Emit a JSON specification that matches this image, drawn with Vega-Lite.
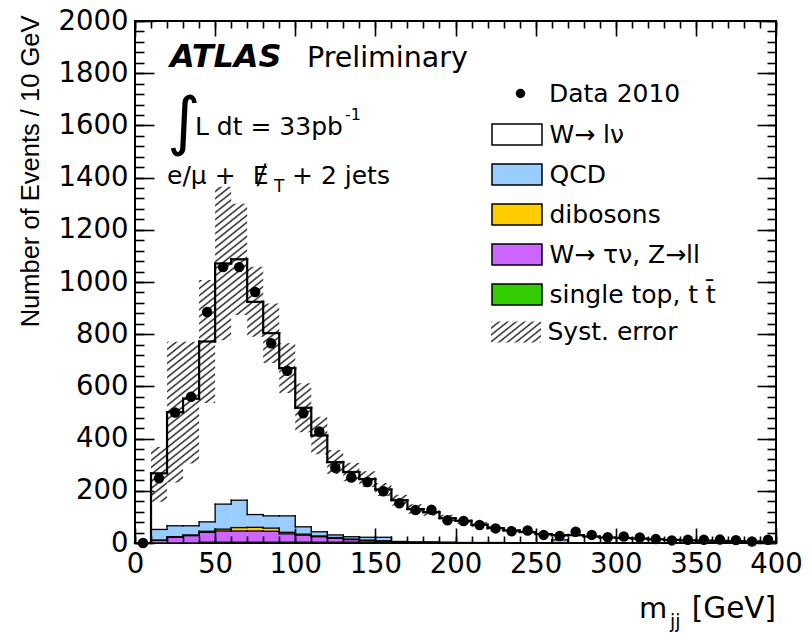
{
"$schema": "https://vega.github.io/schema/vega-lite/v6.json",
"width": 641, "height": 522,
"autosize": {"type": "none"},
"padding": {"left": 135, "top": 21, "right": 34, "bottom": 90},
"background": "white",
"config": {"view": {"stroke": "black", "strokeWidth": 2}, "axis": {"tickColor": "black", "tickWidth": 1.6, "labelColor": "black", "grid": false, "domain": false, "titleColor": "black"}},
"data": {"values": [
{"lo":0,"hi":10,"data":0,"wlnu":0,"qcd":0,"dib":0,"wtau":0,"top":0,"slo":0,"shi":0},
{"lo":10,"hi":20,"data":248,"wlnu":215,"qcd":41,"dib":1,"wtau":10,"top":0,"slo":158,"shi":368},
{"lo":20,"hi":30,"data":500,"wlnu":435,"qcd":42,"dib":2,"wtau":22,"top":0,"slo":232,"shi":771},
{"lo":30,"hi":40,"data":560,"wlnu":487,"qcd":35,"dib":3,"wtau":28,"top":0,"slo":305,"shi":771},
{"lo":40,"hi":50,"data":885,"wlnu":691,"qcd":36,"dib":4,"wtau":38,"top":3,"slo":536,"shi":1008},
{"lo":50,"hi":60,"data":1057,"wlnu":922,"qcd":96,"dib":7,"wtau":43,"top":3,"slo":777,"shi":1365},
{"lo":60,"hi":70,"data":1057,"wlnu":923,"qcd":105,"dib":13,"wtau":43,"top":3,"slo":874,"shi":1300},
{"lo":70,"hi":80,"data":962,"wlnu":815,"qcd":49,"dib":14,"wtau":43,"top":3,"slo":790,"shi":1058},
{"lo":80,"hi":90,"data":765,"wlnu":700,"qcd":47,"dib":12,"wtau":42,"top":3,"slo":690,"shi":918},
{"lo":90,"hi":100,"data":660,"wlnu":566,"qcd":63,"dib":6,"wtau":32,"top":3,"slo":575,"shi":765},
{"lo":100,"hi":110,"data":497,"wlnu":456,"qcd":28,"dib":4,"wtau":27,"top":3,"slo":424,"shi":612},
{"lo":110,"hi":120,"data":427,"wlnu":369,"qcd":16,"dib":3,"wtau":21,"top":3,"slo":340,"shi":484},
{"lo":120,"hi":130,"data":288,"wlnu":279,"qcd":10,"dib":3,"wtau":15,"top":3,"slo":264,"shi":356},
{"lo":130,"hi":140,"data":251,"wlnu":248,"qcd":9,"dib":2,"wtau":10,"top":3,"slo":237,"shi":307},
{"lo":140,"hi":150,"data":234,"wlnu":223,"qcd":11,"dib":2,"wtau":6,"top":3,"slo":215,"shi":275},
{"lo":150,"hi":160,"data":198,"wlnu":183,"qcd":14,"dib":1,"wtau":4,"top":3,"slo":180,"shi":230},
{"lo":160,"hi":170,"data":152,"wlnu":158,"qcd":2,"dib":1,"wtau":3,"top":0,"slo":143,"shi":185},
{"lo":170,"hi":180,"data":126,"wlnu":126,"qcd":1,"dib":1,"wtau":2,"top":0,"slo":112,"shi":148},
{"lo":180,"hi":190,"data":127,"wlnu":114,"qcd":1,"dib":1,"wtau":2,"top":0,"slo":104,"shi":132},
{"lo":190,"hi":200,"data":87,"wlnu":92,"qcd":1,"dib":1,"wtau":1,"top":0,"slo":82,"shi":108},
{"lo":200,"hi":210,"data":84,"wlnu":83,"qcd":1,"dib":0,"wtau":1,"top":0,"slo":74,"shi":96},
{"lo":210,"hi":220,"data":69,"wlnu":68,"qcd":1,"dib":0,"wtau":1,"top":0,"slo":60,"shi":80},
{"lo":220,"hi":230,"data":56,"wlnu":55,"qcd":1,"dib":0,"wtau":1,"top":0,"slo":49,"shi":65},
{"lo":230,"hi":240,"data":45,"wlnu":47,"qcd":0,"dib":0,"wtau":1,"top":0,"slo":41,"shi":55},
{"lo":240,"hi":250,"data":48,"wlnu":41,"qcd":0,"dib":0,"wtau":1,"top":0,"slo":36,"shi":48},
{"lo":250,"hi":260,"data":31,"wlnu":33,"qcd":0,"dib":0,"wtau":1,"top":0,"slo":29,"shi":39},
{"lo":260,"hi":270,"data":27,"wlnu":18,"qcd":12,"dib":0,"wtau":0,"top":0,"slo":25,"shi":35},
{"lo":270,"hi":280,"data":43,"wlnu":30,"qcd":0,"dib":0,"wtau":0,"top":0,"slo":25,"shi":35},
{"lo":280,"hi":290,"data":31,"wlnu":25,"qcd":0,"dib":0,"wtau":0,"top":0,"slo":21,"shi":29},
{"lo":290,"hi":300,"data":22,"wlnu":21,"qcd":0,"dib":0,"wtau":0,"top":0,"slo":18,"shi":24},
{"lo":300,"hi":310,"data":25,"wlnu":19,"qcd":0,"dib":0,"wtau":0,"top":0,"slo":16,"shi":22},
{"lo":310,"hi":320,"data":21,"wlnu":17,"qcd":0,"dib":0,"wtau":0,"top":0,"slo":14,"shi":20},
{"lo":320,"hi":330,"data":15,"wlnu":14,"qcd":0,"dib":0,"wtau":0,"top":0,"slo":12,"shi":16},
{"lo":330,"hi":340,"data":10,"wlnu":12,"qcd":0,"dib":0,"wtau":0,"top":0,"slo":10,"shi":14},
{"lo":340,"hi":350,"data":12,"wlnu":10,"qcd":0,"dib":0,"wtau":0,"top":0,"slo":8,"shi":12},
{"lo":350,"hi":360,"data":12,"wlnu":9,"qcd":0,"dib":0,"wtau":0,"top":0,"slo":7,"shi":11},
{"lo":360,"hi":370,"data":13,"wlnu":8,"qcd":0,"dib":0,"wtau":0,"top":0,"slo":6,"shi":10},
{"lo":370,"hi":380,"data":11,"wlnu":7,"qcd":0,"dib":0,"wtau":0,"top":0,"slo":5,"shi":9},
{"lo":380,"hi":390,"data":6,"wlnu":6,"qcd":0,"dib":0,"wtau":0,"top":0,"slo":5,"shi":7},
{"lo":390,"hi":400,"data":12,"wlnu":5,"qcd":0,"dib":0,"wtau":0,"top":0,"slo":4,"shi":6}
]},
"resolve": {"axis": {"x": "independent", "y": "independent"}},
"layer": [
{
"transform": [
{"fold": ["top", "wtau", "dib", "qcd", "wlnu"], "as": ["key", "v"]},
{"calculate": "indexof(['top','wtau','dib','qcd','wlnu'], datum.key)", "as": "ord"},
{"calculate": "['single top, t t\u0304','W\u2192 \u03c4\u03bd, Z\u2192ll','dibosons','QCD','W\u2192 l\u03bd'][datum.ord]", "as": "comp"},
{"stack": "v", "groupby": ["lo"], "sort": [{"field": "ord", "order": "ascending"}], "as": ["s0", "s1"]}
],
"mark": {"type": "rect", "opacity": 1, "strokeWidth": 0},
"encoding": {
"x": {"field": "lo", "type": "quantitative", "scale": {"domain": [0, 400], "nice": false, "zero": false},
 "axis": {"orient": "bottom", "values": [0,50,100,150,200,250,300,350,400], "format": "d", "ticks": false, "labelFont": "DejaVu Sans", "labelFontSize": 27.5, "labelPadding": 7, "labelFlush": false, "labelOverlap": false, "title": null}},
"x2": {"field": "hi"},
"y": {"field": "s0", "type": "quantitative", "scale": {"domain": [0, 2000], "nice": false},
 "axis": {"orient": "left", "values": [0,200,400,600,800,1000,1200,1400,1600,1800,2000], "format": "d", "ticks": false, "labelFont": "DejaVu Sans", "labelFontSize": 27.5, "labelPadding": 7, "labelOverlap": false,
  "title": "Number of Events / 10 GeV", "titleFont": "Liberation Sans", "titleFontSize": 25.5, "titleFontWeight": "normal", "titleAngle": -90, "titleAlign": "right", "titleBaseline": "middle", "titleX": -105, "titleY": -6}},
"y2": {"field": "s1"},
"color": {"field": "comp", "type": "nominal",
 "scale": {"domain": ["W\u2192 l\u03bd", "QCD", "dibosons", "W\u2192 \u03c4\u03bd, Z\u2192ll", "single top, t t\u0304"], "range": ["white", "#99ccff", "#ffcc00", "#cc66ff", "#33cc00"]},
 "legend": {"orient": "none", "legendX": 362, "legendY": 93.5, "title": null, "padding": 0, "rowPadding": 6,
  "symbolSize": 1444, "symbolType": "M-1.316,-0.553H1.316V0.553H-1.316Z", "symbolStrokeWidth": 1.5, "symbolStrokeColor": "black",
  "labelFont": "DejaVu Sans", "labelFontSize": 25, "labelColor": "black", "labelOffset": 12.5, "labelLimit": 400}
}
}
},
{
"transform": [{"filter": "datum.lo >= 10"}],
"mark": {"type": "area", "interpolate": "step-after", "opacity": 1, "fill": {"gradient": "linear", "x1": 0, "y1": 0, "x2": 1.1289, "y2": 0.8233, "stops": [
{"offset":0,"color":"#222"},{"offset":0.00208,"color":"transparent"},{"offset":0.00625,"color":"transparent"},{"offset":0.00833,"color":"#222"},{"offset":0.01042,"color":"transparent"},{"offset":0.01458,"color":"transparent"},{"offset":0.01667,"color":"#222"},{"offset":0.01875,"color":"transparent"},{"offset":0.02292,"color":"transparent"},
{"offset":0.025,"color":"#222"},{"offset":0.02708,"color":"transparent"},{"offset":0.03125,"color":"transparent"},{"offset":0.03333,"color":"#222"},{"offset":0.03542,"color":"transparent"},{"offset":0.03958,"color":"transparent"},{"offset":0.04167,"color":"#222"},{"offset":0.04375,"color":"transparent"},{"offset":0.04792,"color":"transparent"},
{"offset":0.05,"color":"#222"},{"offset":0.05208,"color":"transparent"},{"offset":0.05625,"color":"transparent"},{"offset":0.05833,"color":"#222"},{"offset":0.06042,"color":"transparent"},{"offset":0.06458,"color":"transparent"},{"offset":0.06667,"color":"#222"},{"offset":0.06875,"color":"transparent"},{"offset":0.07292,"color":"transparent"},
{"offset":0.075,"color":"#222"},{"offset":0.07708,"color":"transparent"},{"offset":0.08125,"color":"transparent"},{"offset":0.08333,"color":"#222"},{"offset":0.08542,"color":"transparent"},{"offset":0.08958,"color":"transparent"},{"offset":0.09167,"color":"#222"},{"offset":0.09375,"color":"transparent"},{"offset":0.09792,"color":"transparent"},
{"offset":0.1,"color":"#222"},{"offset":0.10208,"color":"transparent"},{"offset":0.10625,"color":"transparent"},{"offset":0.10833,"color":"#222"},{"offset":0.11042,"color":"transparent"},{"offset":0.11458,"color":"transparent"},{"offset":0.11667,"color":"#222"},{"offset":0.11875,"color":"transparent"},{"offset":0.12292,"color":"transparent"},
{"offset":0.125,"color":"#222"},{"offset":0.12708,"color":"transparent"},{"offset":0.13125,"color":"transparent"},{"offset":0.13333,"color":"#222"},{"offset":0.13542,"color":"transparent"},{"offset":0.13958,"color":"transparent"},{"offset":0.14167,"color":"#222"},{"offset":0.14375,"color":"transparent"},{"offset":0.14792,"color":"transparent"},
{"offset":0.15,"color":"#222"},{"offset":0.15208,"color":"transparent"},{"offset":0.15625,"color":"transparent"},{"offset":0.15833,"color":"#222"},{"offset":0.16042,"color":"transparent"},{"offset":0.16458,"color":"transparent"},{"offset":0.16667,"color":"#222"},{"offset":0.16875,"color":"transparent"},{"offset":0.17292,"color":"transparent"},
{"offset":0.175,"color":"#222"},{"offset":0.17708,"color":"transparent"},{"offset":0.18125,"color":"transparent"},{"offset":0.18333,"color":"#222"},{"offset":0.18542,"color":"transparent"},{"offset":0.18958,"color":"transparent"},{"offset":0.19167,"color":"#222"},{"offset":0.19375,"color":"transparent"},{"offset":0.19792,"color":"transparent"},
{"offset":0.2,"color":"#222"},{"offset":0.20208,"color":"transparent"},{"offset":0.20625,"color":"transparent"},{"offset":0.20833,"color":"#222"},{"offset":0.21042,"color":"transparent"},{"offset":0.21458,"color":"transparent"},{"offset":0.21667,"color":"#222"},{"offset":0.21875,"color":"transparent"},{"offset":0.22292,"color":"transparent"},
{"offset":0.225,"color":"#222"},{"offset":0.22708,"color":"transparent"},{"offset":0.23125,"color":"transparent"},{"offset":0.23333,"color":"#222"},{"offset":0.23542,"color":"transparent"},{"offset":0.23958,"color":"transparent"},{"offset":0.24167,"color":"#222"},{"offset":0.24375,"color":"transparent"},{"offset":0.24792,"color":"transparent"},
{"offset":0.25,"color":"#222"},{"offset":0.25208,"color":"transparent"},{"offset":0.25625,"color":"transparent"},{"offset":0.25833,"color":"#222"},{"offset":0.26042,"color":"transparent"},{"offset":0.26458,"color":"transparent"},{"offset":0.26667,"color":"#222"},{"offset":0.26875,"color":"transparent"},{"offset":0.27292,"color":"transparent"},
{"offset":0.275,"color":"#222"},{"offset":0.27708,"color":"transparent"},{"offset":0.28125,"color":"transparent"},{"offset":0.28333,"color":"#222"},{"offset":0.28542,"color":"transparent"},{"offset":0.28958,"color":"transparent"},{"offset":0.29167,"color":"#222"},{"offset":0.29375,"color":"transparent"},{"offset":0.29792,"color":"transparent"},
{"offset":0.3,"color":"#222"},{"offset":0.30208,"color":"transparent"},{"offset":0.30625,"color":"transparent"},{"offset":0.30833,"color":"#222"},{"offset":0.31042,"color":"transparent"},{"offset":0.31458,"color":"transparent"},{"offset":0.31667,"color":"#222"},{"offset":0.31875,"color":"transparent"},{"offset":0.32292,"color":"transparent"},
{"offset":0.325,"color":"#222"},{"offset":0.32708,"color":"transparent"},{"offset":0.33125,"color":"transparent"},{"offset":0.33333,"color":"#222"},{"offset":0.33542,"color":"transparent"},{"offset":0.33958,"color":"transparent"},{"offset":0.34167,"color":"#222"},{"offset":0.34375,"color":"transparent"},{"offset":0.34792,"color":"transparent"},
{"offset":0.35,"color":"#222"},{"offset":0.35208,"color":"transparent"},{"offset":0.35625,"color":"transparent"},{"offset":0.35833,"color":"#222"},{"offset":0.36042,"color":"transparent"},{"offset":0.36458,"color":"transparent"},{"offset":0.36667,"color":"#222"},{"offset":0.36875,"color":"transparent"},{"offset":0.37292,"color":"transparent"},
{"offset":0.375,"color":"#222"},{"offset":0.37708,"color":"transparent"},{"offset":0.38125,"color":"transparent"},{"offset":0.38333,"color":"#222"},{"offset":0.38542,"color":"transparent"},{"offset":0.38958,"color":"transparent"},{"offset":0.39167,"color":"#222"},{"offset":0.39375,"color":"transparent"},{"offset":0.39792,"color":"transparent"},
{"offset":0.4,"color":"#222"},{"offset":0.40208,"color":"transparent"},{"offset":0.40625,"color":"transparent"},{"offset":0.40833,"color":"#222"},{"offset":0.41042,"color":"transparent"},{"offset":0.41458,"color":"transparent"},{"offset":0.41667,"color":"#222"},{"offset":0.41875,"color":"transparent"},{"offset":0.42292,"color":"transparent"},
{"offset":0.425,"color":"#222"},{"offset":0.42708,"color":"transparent"},{"offset":0.43125,"color":"transparent"},{"offset":0.43333,"color":"#222"},{"offset":0.43542,"color":"transparent"},{"offset":0.43958,"color":"transparent"},{"offset":0.44167,"color":"#222"},{"offset":0.44375,"color":"transparent"},{"offset":0.44792,"color":"transparent"},
{"offset":0.45,"color":"#222"},{"offset":0.45208,"color":"transparent"},{"offset":0.45625,"color":"transparent"},{"offset":0.45833,"color":"#222"},{"offset":0.46042,"color":"transparent"},{"offset":0.46458,"color":"transparent"},{"offset":0.46667,"color":"#222"},{"offset":0.46875,"color":"transparent"},{"offset":0.47292,"color":"transparent"},
{"offset":0.475,"color":"#222"},{"offset":0.47708,"color":"transparent"},{"offset":0.48125,"color":"transparent"},{"offset":0.48333,"color":"#222"},{"offset":0.48542,"color":"transparent"},{"offset":0.48958,"color":"transparent"},{"offset":0.49167,"color":"#222"},{"offset":0.49375,"color":"transparent"},{"offset":0.49792,"color":"transparent"},
{"offset":0.5,"color":"#222"},{"offset":0.50208,"color":"transparent"},{"offset":0.50625,"color":"transparent"},{"offset":0.50833,"color":"#222"},{"offset":0.51042,"color":"transparent"},{"offset":0.51458,"color":"transparent"},{"offset":0.51667,"color":"#222"},{"offset":0.51875,"color":"transparent"},{"offset":0.52292,"color":"transparent"},
{"offset":0.525,"color":"#222"},{"offset":0.52708,"color":"transparent"},{"offset":0.53125,"color":"transparent"},{"offset":0.53333,"color":"#222"},{"offset":0.53542,"color":"transparent"},{"offset":0.53958,"color":"transparent"},{"offset":0.54167,"color":"#222"},{"offset":0.54375,"color":"transparent"},{"offset":0.54792,"color":"transparent"},
{"offset":0.55,"color":"#222"},{"offset":0.55208,"color":"transparent"},{"offset":0.55625,"color":"transparent"},{"offset":0.55833,"color":"#222"},{"offset":0.56042,"color":"transparent"},{"offset":0.56458,"color":"transparent"},{"offset":0.56667,"color":"#222"},{"offset":0.56875,"color":"transparent"},{"offset":0.57292,"color":"transparent"},
{"offset":0.575,"color":"#222"},{"offset":0.57708,"color":"transparent"},{"offset":0.58125,"color":"transparent"},{"offset":0.58333,"color":"#222"},{"offset":0.58542,"color":"transparent"},{"offset":0.58958,"color":"transparent"},{"offset":0.59167,"color":"#222"},{"offset":0.59375,"color":"transparent"},{"offset":0.59792,"color":"transparent"},
{"offset":0.6,"color":"#222"},{"offset":0.60208,"color":"transparent"},{"offset":0.60625,"color":"transparent"},{"offset":0.60833,"color":"#222"},{"offset":0.61042,"color":"transparent"},{"offset":0.61458,"color":"transparent"},{"offset":0.61667,"color":"#222"},{"offset":0.61875,"color":"transparent"},{"offset":0.62292,"color":"transparent"},
{"offset":0.625,"color":"#222"},{"offset":0.62708,"color":"transparent"},{"offset":0.63125,"color":"transparent"},{"offset":0.63333,"color":"#222"},{"offset":0.63542,"color":"transparent"},{"offset":0.63958,"color":"transparent"},{"offset":0.64167,"color":"#222"},{"offset":0.64375,"color":"transparent"},{"offset":0.64792,"color":"transparent"},
{"offset":0.65,"color":"#222"},{"offset":0.65208,"color":"transparent"},{"offset":0.65625,"color":"transparent"},{"offset":0.65833,"color":"#222"},{"offset":0.66042,"color":"transparent"},{"offset":0.66458,"color":"transparent"},{"offset":0.66667,"color":"#222"},{"offset":0.66875,"color":"transparent"},{"offset":0.67292,"color":"transparent"},
{"offset":0.675,"color":"#222"},{"offset":0.67708,"color":"transparent"},{"offset":0.68125,"color":"transparent"},{"offset":0.68333,"color":"#222"},{"offset":0.68542,"color":"transparent"},{"offset":0.68958,"color":"transparent"},{"offset":0.69167,"color":"#222"},{"offset":0.69375,"color":"transparent"},{"offset":0.69792,"color":"transparent"},
{"offset":0.7,"color":"#222"},{"offset":0.70208,"color":"transparent"},{"offset":0.70625,"color":"transparent"},{"offset":0.70833,"color":"#222"},{"offset":0.71042,"color":"transparent"},{"offset":0.71458,"color":"transparent"},{"offset":0.71667,"color":"#222"},{"offset":0.71875,"color":"transparent"},{"offset":0.72292,"color":"transparent"},
{"offset":0.725,"color":"#222"},{"offset":0.72708,"color":"transparent"},{"offset":0.73125,"color":"transparent"},{"offset":0.73333,"color":"#222"},{"offset":0.73542,"color":"transparent"},{"offset":0.73958,"color":"transparent"},{"offset":0.74167,"color":"#222"},{"offset":0.74375,"color":"transparent"},{"offset":0.74792,"color":"transparent"},
{"offset":0.75,"color":"#222"},{"offset":0.75208,"color":"transparent"},{"offset":0.75625,"color":"transparent"},{"offset":0.75833,"color":"#222"},{"offset":0.76042,"color":"transparent"},{"offset":0.76458,"color":"transparent"},{"offset":0.76667,"color":"#222"},{"offset":0.76875,"color":"transparent"},{"offset":0.77292,"color":"transparent"},
{"offset":0.775,"color":"#222"},{"offset":0.77708,"color":"transparent"},{"offset":0.78125,"color":"transparent"},{"offset":0.78333,"color":"#222"},{"offset":0.78542,"color":"transparent"},{"offset":0.78958,"color":"transparent"},{"offset":0.79167,"color":"#222"},{"offset":0.79375,"color":"transparent"},{"offset":0.79792,"color":"transparent"},
{"offset":0.8,"color":"#222"},{"offset":0.80208,"color":"transparent"},{"offset":0.80625,"color":"transparent"},{"offset":0.80833,"color":"#222"},{"offset":0.81042,"color":"transparent"},{"offset":0.81458,"color":"transparent"},{"offset":0.81667,"color":"#222"},{"offset":0.81875,"color":"transparent"},{"offset":0.82292,"color":"transparent"},
{"offset":0.825,"color":"#222"},{"offset":0.82708,"color":"transparent"},{"offset":0.83125,"color":"transparent"},{"offset":0.83333,"color":"#222"},{"offset":0.83542,"color":"transparent"},{"offset":0.83958,"color":"transparent"},{"offset":0.84167,"color":"#222"},{"offset":0.84375,"color":"transparent"},{"offset":0.84792,"color":"transparent"},
{"offset":0.85,"color":"#222"},{"offset":0.85208,"color":"transparent"},{"offset":0.85625,"color":"transparent"},{"offset":0.85833,"color":"#222"},{"offset":0.86042,"color":"transparent"},{"offset":0.86458,"color":"transparent"},{"offset":0.86667,"color":"#222"},{"offset":0.86875,"color":"transparent"},{"offset":0.87292,"color":"transparent"},
{"offset":0.875,"color":"#222"},{"offset":0.87708,"color":"transparent"},{"offset":0.88125,"color":"transparent"},{"offset":0.88333,"color":"#222"},{"offset":0.88542,"color":"transparent"},{"offset":0.88958,"color":"transparent"},{"offset":0.89167,"color":"#222"},{"offset":0.89375,"color":"transparent"},{"offset":0.89792,"color":"transparent"},
{"offset":0.9,"color":"#222"},{"offset":0.90208,"color":"transparent"},{"offset":0.90625,"color":"transparent"},{"offset":0.90833,"color":"#222"},{"offset":0.91042,"color":"transparent"},{"offset":0.91458,"color":"transparent"},{"offset":0.91667,"color":"#222"},{"offset":0.91875,"color":"transparent"},{"offset":0.92292,"color":"transparent"},
{"offset":0.925,"color":"#222"},{"offset":0.92708,"color":"transparent"},{"offset":0.93125,"color":"transparent"},{"offset":0.93333,"color":"#222"},{"offset":0.93542,"color":"transparent"},{"offset":0.93958,"color":"transparent"},{"offset":0.94167,"color":"#222"},{"offset":0.94375,"color":"transparent"},{"offset":0.94792,"color":"transparent"},
{"offset":0.95,"color":"#222"},{"offset":0.95208,"color":"transparent"},{"offset":0.95625,"color":"transparent"},{"offset":0.95833,"color":"#222"},{"offset":0.96042,"color":"transparent"},{"offset":0.96458,"color":"transparent"},{"offset":0.96667,"color":"#222"},{"offset":0.96875,"color":"transparent"},{"offset":0.97292,"color":"transparent"},
{"offset":0.975,"color":"#222"},{"offset":0.97708,"color":"transparent"},{"offset":0.98125,"color":"transparent"},{"offset":0.98333,"color":"#222"},{"offset":0.98542,"color":"transparent"},{"offset":0.98958,"color":"transparent"},{"offset":0.99167,"color":"#222"},{"offset":0.99375,"color":"transparent"},{"offset":0.99792,"color":"transparent"},
{"offset":1,"color":"#222"}]}},
"encoding": {
"x": {"field": "lo", "type": "quantitative", "axis": {"orient": "bottom", "values": [0,50,100,150,200,250,300,350,400], "labels": false, "tickSize": -15, "title": null, "zindex": 1}},
"y": {"field": "shi", "type": "quantitative", "axis": {"orient": "left", "values": [0,200,400,600,800,1000,1200,1400,1600,1800,2000], "labels": false, "tickSize": -19, "title": null, "zindex": 1}},
"y2": {"field": "slo"}
}
},
{
"transform": [
{"fold": ["top", "wtau", "dib", "qcd", "wlnu"], "as": ["key", "v"]},
{"calculate": "indexof(['top','wtau','dib','qcd','wlnu'], datum.key)", "as": "ord"},
{"stack": "v", "groupby": ["lo"], "sort": [{"field": "ord", "order": "ascending"}], "as": ["s0", "s1"]}
],
"mark": {"type": "rule", "color": "black", "strokeCap": "square"},
"encoding": {
"x": {"field": "lo", "type": "quantitative", "axis": {"orient": "bottom", "values": [0,10,20,30,40,50,60,70,80,90,100,110,120,130,140,150,160,170,180,190,200,210,220,230,240,250,260,270,280,290,300,310,320,330,340,350,360,370,380,390,400], "labels": false, "tickSize": -7, "title": null, "zindex": 1}},
"x2": {"field": "hi"},
"y": {"field": "s1", "type": "quantitative", "axis": {"orient": "left", "values": [0,40,80,120,160,200,240,280,320,360,400,440,480,520,560,600,640,680,720,760,800,840,880,920,960,1000,1040,1080,1120,1160,1200,1240,1280,1320,1360,1400,1440,1480,1520,1560,1600,1640,1680,1720,1760,1800,1840,1880,1920,1960,2000], "labels": false, "tickSize": -9, "title": null, "zindex": 1}},
"strokeWidth": {"condition": {"test": "datum.key === 'wlnu'", "value": 2.2}, "value": 1.3}
}
},
{
"transform": [
{"fold": ["top", "wtau", "dib", "qcd", "wlnu"], "as": ["key", "v"]},
{"calculate": "indexof(['top','wtau','dib','qcd','wlnu'], datum.key)", "as": "ord"},
{"stack": "v", "groupby": ["lo"], "sort": [{"field": "ord", "order": "ascending"}], "as": ["s0", "s1"]},
{"window": [{"op": "lag", "field": "s1", "as": "prev"}], "groupby": ["key"], "sort": [{"field": "lo", "order": "ascending"}]},
{"calculate": "datum.prev == null ? 0 : datum.prev", "as": "prev0"}
],
"mark": {"type": "rule", "color": "black", "strokeCap": "square"},
"encoding": {
"x": {"field": "lo", "type": "quantitative", "axis": {"orient": "top", "values": [0,50,100,150,200,250,300,350,400], "labels": false, "tickSize": -15, "title": null, "zindex": 1}},
"y": {"field": "prev0", "type": "quantitative", "axis": {"orient": "right", "values": [0,200,400,600,800,1000,1200,1400,1600,1800,2000], "labels": false, "tickSize": -19, "title": null, "zindex": 1}},
"y2": {"field": "s1"},
"strokeWidth": {"condition": {"test": "datum.key === 'wlnu'", "value": 2.2}, "value": 1.3}
}
},
{
"transform": [{"calculate": "(datum.lo + datum.hi) / 2", "as": "c"}],
"mark": {"type": "point", "filled": true, "size": 110, "color": "black", "opacity": 1},
"encoding": {
"x": {"field": "c", "type": "quantitative", "axis": {"orient": "top", "values": [0,10,20,30,40,50,60,70,80,90,100,110,120,130,140,150,160,170,180,190,200,210,220,230,240,250,260,270,280,290,300,310,320,330,340,350,360,370,380,390,400], "labels": false, "tickSize": -7, "title": null, "zindex": 1}},
"y": {"field": "data", "type": "quantitative", "axis": {"orient": "right", "values": [0,40,80,120,160,200,240,280,320,360,400,440,480,520,560,600,640,680,720,760,800,840,880,920,960,1000,1040,1080,1120,1160,1200,1240,1280,1320,1360,1400,1440,1480,1520,1560,1600,1640,1680,1720,1760,1800,1840,1880,1920,1960,2000], "labels": false, "tickSize": -9, "title": null, "zindex": 1}},
"shape": {"datum": "Data 2010", "type": "nominal", "scale": {"domain": ["Data 2010"], "range": ["circle"]},
 "legend": {"orient": "none", "legendX": 373, "legendY": 60, "title": null, "padding": 0, "symbolSize": 90, "symbolFillColor": "black", "symbolStrokeWidth": 0,
  "labelFont": "DejaVu Sans", "labelFontSize": 25, "labelColor": "black", "labelOffset": 16, "labelLimit": 400}}
}
},
{"data": {"values": [{}]}, "mark": {"type": "text", "text": "", "opacity": 1},
 "encoding": {"x": {"datum": 0, "type": "quantitative", "axis": null}, "y": {"datum": 0, "type": "quantitative", "axis": null},
  "fill": {"datum": "Syst. error", "type": "nominal",
   "scale": {"domain": ["Syst. error"], "range": [{"expr": "{gradient:'linear',x1:0,y1:0,x2:1.1955,y2:0.6277,stops:[{offset:0,color:'#222'},{offset:0.0278,color:'transparent'},{offset:0.0833,color:'transparent'},{offset:0.1111,color:'#222'},{offset:0.1389,color:'transparent'},{offset:0.1944,color:'transparent'},{offset:0.2222,color:'#222'},{offset:0.25,color:'transparent'},{offset:0.3056,color:'transparent'},{offset:0.3333,color:'#222'},{offset:0.3611,color:'transparent'},{offset:0.4167,color:'transparent'},{offset:0.4444,color:'#222'},{offset:0.4722,color:'transparent'},{offset:0.5278,color:'transparent'},{offset:0.5556,color:'#222'},{offset:0.5833,color:'transparent'},{offset:0.6389,color:'transparent'},{offset:0.6667,color:'#222'},{offset:0.6944,color:'transparent'},{offset:0.75,color:'transparent'},{offset:0.7778,color:'#222'},{offset:0.8056,color:'transparent'},{offset:0.8611,color:'transparent'},{offset:0.8889,color:'#222'},{offset:0.9167,color:'transparent'},{offset:0.9722,color:'transparent'},{offset:1,color:'#222'}]}"}]},
   "legend": {"orient": "none", "legendX": 362, "legendY": 292, "title": null, "padding": 0,
    "symbolSize": 1444, "symbolType": "M-1.316,-0.553H1.316V0.553H-1.316Z", "symbolStrokeWidth": 0, "symbolOpacity": 1,
    "labelFont": "DejaVu Sans", "labelFontSize": 25, "labelColor": "black", "labelOffset": 12.5, "labelLimit": 400}}}},
{"data": {"values": [{}]}, "mark": {"type": "text", "text": "ATLAS", "align": "left", "baseline": "alphabetic", "font": "DejaVu Sans", "fontSize": 32, "fontWeight": "bold", "fontStyle": "italic", "color": "black"},
 "encoding": {"x": {"datum": 21.8, "type": "quantitative", "axis": null}, "y": {"datum": 1824, "type": "quantitative", "axis": null}}},
{"data": {"values": [{}]}, "mark": {"type": "text", "text": "Preliminary", "align": "left", "baseline": "alphabetic", "font": "DejaVu Sans", "fontSize": 28.5, "color": "black"},
 "encoding": {"x": {"datum": 107.3, "type": "quantitative", "axis": null}, "y": {"datum": 1824, "type": "quantitative", "axis": null}}},
{"data": {"values": [{}]}, "mark": {"type": "text", "text": "\u222b", "align": "left", "baseline": "alphabetic", "font": "DejaVu Sans", "fontSize": 64, "color": "black"},
 "encoding": {"x": {"datum": 20.2, "type": "quantitative", "axis": null}, "y": {"datum": 1532, "type": "quantitative", "axis": null}}},
{"data": {"values": [{}]}, "mark": {"type": "text", "text": "L dt = 33pb", "align": "left", "baseline": "alphabetic", "font": "DejaVu Sans", "fontSize": 25, "color": "black"},
 "encoding": {"x": {"datum": 37.4, "type": "quantitative", "axis": null}, "y": {"datum": 1563, "type": "quantitative", "axis": null}}},
{"data": {"values": [{}]}, "mark": {"type": "text", "text": "-1", "align": "left", "baseline": "alphabetic", "font": "DejaVu Sans", "fontSize": 16, "color": "black"},
 "encoding": {"x": {"datum": 131, "type": "quantitative", "axis": null}, "y": {"datum": 1621, "type": "quantitative", "axis": null}}},
{"data": {"values": [{}]}, "mark": {"type": "text", "text": "e/\u03bc +", "align": "left", "baseline": "alphabetic", "font": "DejaVu Sans", "fontSize": 25, "color": "black"},
 "encoding": {"x": {"datum": 20, "type": "quantitative", "axis": null}, "y": {"datum": 1375.5, "type": "quantitative", "axis": null}}},
{"data": {"values": [{}]}, "mark": {"type": "text", "text": "\u0246", "align": "left", "baseline": "alphabetic", "font": "DejaVu Sans", "fontSize": 25, "color": "black"},
 "encoding": {"x": {"datum": 73.5, "type": "quantitative", "axis": null}, "y": {"datum": 1375.5, "type": "quantitative", "axis": null}}},
{"data": {"values": [{}]}, "mark": {"type": "text", "text": "T", "align": "left", "baseline": "alphabetic", "font": "DejaVu Sans", "fontSize": 17, "color": "black"},
 "encoding": {"x": {"datum": 86.7, "type": "quantitative", "axis": null}, "y": {"datum": 1345, "type": "quantitative", "axis": null}}},
{"data": {"values": [{}]}, "mark": {"type": "text", "text": "+ 2 jets", "align": "left", "baseline": "alphabetic", "font": "DejaVu Sans", "fontSize": 25, "color": "black"},
 "encoding": {"x": {"datum": 98, "type": "quantitative", "axis": null}, "y": {"datum": 1375.5, "type": "quantitative", "axis": null}}},
{"data": {"values": [{}]}, "mark": {"type": "text", "text": "m", "align": "left", "baseline": "alphabetic", "font": "DejaVu Sans", "fontSize": 29, "color": "black"},
 "encoding": {"x": {"datum": 314.5, "type": "quantitative", "axis": null}, "y": {"datum": -287, "type": "quantitative", "axis": null}}},
{"data": {"values": [{}]}, "mark": {"type": "text", "text": "jj", "align": "left", "baseline": "alphabetic", "font": "DejaVu Sans", "fontSize": 19, "color": "black"},
 "encoding": {"x": {"datum": 333.8, "type": "quantitative", "axis": null}, "y": {"datum": -326, "type": "quantitative", "axis": null}}},
{"data": {"values": [{}]}, "mark": {"type": "text", "text": "[GeV]", "align": "right", "baseline": "alphabetic", "font": "DejaVu Sans", "fontSize": 29.5, "color": "black"},
 "encoding": {"x": {"datum": 400, "type": "quantitative", "axis": null}, "y": {"datum": -287, "type": "quantitative", "axis": null}}}
]
}
